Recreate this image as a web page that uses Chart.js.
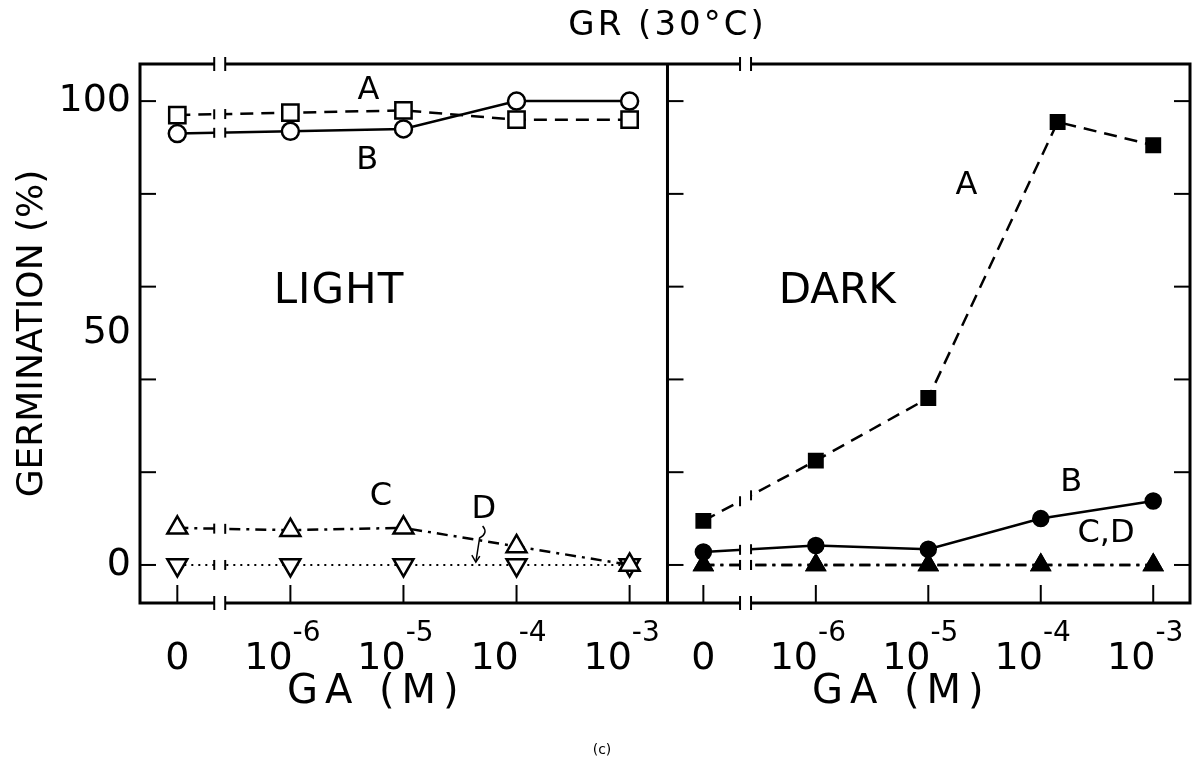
<!DOCTYPE html>
<html>
<head>
<meta charset="utf-8">
<script src="https://cdn.jsdelivr.net/npm/chart.js@4.4.1/dist/chart.umd.min.js"></script>
<style>
  html, body { margin: 0; padding: 0; background: #fff; }
  #wrap { width: 1204px; height: 773px; position: relative; }
</style>
</head>
<body>
<div id="wrap"><canvas id="gr" width="1204" height="773"></canvas></div>
<script>
// GA doses, evenly spaced; "0" is set off by an axis break
const doses = ['0', '-6', '-5', '-4', '-3'];
const doseX = [0, 1, 2, 3, 4];

// LIGHT panel (open symbols)
const lightA = [97, 97.5, 98, 96, 96];
const lightB = [93, 93.5, 94, 100, 100];
const lightC = [8, 7.5, 8, 4, 0];
const lightD = [0, 0, 0, 0, 0];

// DARK panel (closed symbols)
const darkAx = [0, 1, 2, 3.15, 4];
const darkA = [9.5, 22.5, 36, 95.5, 90.5];
const darkB = [2.8, 4.2, 3.4, 10, 13.8];
const darkC = [0, 0, 0, 0, 0];
const darkD = [0, 0, 0, 0, 0];

const yLabels = [0, 50, 100];
const yMarks = [0, 20, 40, 60, 80, 100];

const FONT = "'DejaVu Sans', sans-serif";
const BREAK_AT = 0.375;

function pts(xs, ys) {
  return ys.map((v, i) => ({ x: xs[i], y: v }));
}

function style(extra) {
  return Object.assign({
    borderColor: '#000',
    borderWidth: 2.5,
    pointBorderColor: '#000',
    pointBorderWidth: 2.5,
    pointBackgroundColor: '#fff',
    pointHoverRadius: 0,
    tension: 0,
    fill: false,
    xAxisID: 'x1'
  }, extra);
}

function seg(ctx, x1, y1, x2, y2) {
  ctx.beginPath();
  ctx.moveTo(x1, y1);
  ctx.lineTo(x2, y2);
  ctx.stroke();
}

const frame = {
  id: 'frame',
  beforeDatasetsDraw(chart) {
    const { ctx, chartArea: a, scales } = chart;
    const mid = scales.x1.right;
    ctx.save();
    ctx.strokeStyle = '#000';
    ctx.lineWidth = 3;
    ctx.strokeRect(a.left, a.top, a.right - a.left, a.bottom - a.top);
    seg(ctx, mid, a.top, mid, a.bottom);
    // inward tick marks
    ctx.lineWidth = 2;
    yMarks.forEach(v => {
      const py = scales.y.getPixelForValue(v);
      seg(ctx, a.left, py, a.left + 16, py);
      seg(ctx, mid, py, mid + 16, py);
      seg(ctx, a.right, py, a.right - 16, py);
    });
    ['x1', 'x2'].forEach(id => doseX.forEach(v => {
      const px = scales[id].getPixelForValue(v);
      seg(ctx, px, a.bottom, px, a.bottom - 18);
    }));
    ctx.restore();
  },
  afterDatasetsDraw(chart) {
    const { ctx, chartArea: a, scales } = chart;
    const g = 5.5;
    ctx.save();
    ctx.strokeStyle = '#000';
    // axis breaks between 0 and 10^-6
    ['x1', 'x2'].forEach(id => {
      const bx = scales[id].getPixelForValue(BREAK_AT);
      ctx.fillStyle = '#fff';
      ctx.fillRect(bx - g, a.top - 8, 2 * g, a.bottom - a.top + 16);
      ctx.lineWidth = 2;
      [bx - g, bx + g].forEach(x => {
        seg(ctx, x, a.top - 7, x, a.top + 7);
        seg(ctx, x, a.bottom - 7, x, a.bottom + 7);
      });
      chart.data.datasets.forEach((ds, i) => {
        if (ds.xAxisID !== id) return;
        const d = chart.getDatasetMeta(i).data;
        const p0 = d[0], p1 = d[1];
        [bx - g, bx + g].forEach(x => {
          const y = p0.y + (p1.y - p0.y) * (x - p0.x) / (p1.x - p0.x);
          seg(ctx, x, y - 5, x, y + 5);
        });
      });
    });

    ctx.fillStyle = '#000';
    const at = (id, xv, yv) => [scales[id].getPixelForValue(xv), scales.y.getPixelForValue(yv)];
    const text = (s, x, y, size, spacing) => {
      ctx.font = size + 'px ' + FONT;
      ctx.letterSpacing = (spacing || 0) + 'px';
      ctx.textAlign = 'center';
      ctx.textBaseline = 'middle';
      ctx.fillText(s, x, y);
    };

    // title
    text('GR (30°C)', scales.x1.right, 26, 34, 3);

    // panel names and curve labels
    text('LIGHT', ...at('x1', 1.43, 58.9), 42, 1);
    text('DARK', ...at('x2', 1.19, 58.9), 42, 0);
    text('A', ...at('x1', 1.69, 102.3), 32);
    text('B', ...at('x1', 1.68, 87.2), 32);
    text('C', ...at('x1', 1.8, 14.7), 32);
    text('D', ...at('x1', 2.71, 12), 32);
    text('A', ...at('x2', 2.34, 81.8), 32);
    text('B', ...at('x2', 3.27, 17.7), 32);
    text('C,D', ...at('x2', 3.58, 6.8), 32);

    // arrow from D down to its curve
    const [ax0, ay0] = at('x1', 2.7, 8.4);
    const [ax1, ay1] = at('x1', 2.64, 0.6);
    ctx.lineWidth = 1.5;
    ctx.beginPath();
    ctx.moveTo(ax0, ay0);
    ctx.quadraticCurveTo(ax0 + 6, ay0 + 7, ax0 - 3, ay0 + 12);
    ctx.lineTo(ax1, ay1);
    ctx.stroke();
    ctx.beginPath();
    ctx.moveTo(ax1 - 4, ay1 - 7);
    ctx.lineTo(ax1, ay1);
    ctx.lineTo(ax1 + 4, ay1 - 6);
    ctx.stroke();

    // x tick labels with exponents
    ['x1', 'x2'].forEach(id => doses.forEach((lab, i) => {
      const px = scales[id].getPixelForValue(doseX[i]);
      ctx.textBaseline = 'alphabetic';
      ctx.letterSpacing = '0px';
      if (lab === '0') {
        ctx.font = '38px ' + FONT;
        ctx.textAlign = 'center';
        ctx.fillText('0', px, 669);
        return;
      }
      ctx.font = '38px ' + FONT;
      const wb = ctx.measureText('10').width;
      ctx.font = '28px ' + FONT;
      const we = ctx.measureText(lab).width;
      const x0 = px - 8 - (wb + we) / 2;
      ctx.textAlign = 'left';
      ctx.font = '38px ' + FONT;
      ctx.fillText('10', x0, 669);
      ctx.font = '28px ' + FONT;
      ctx.fillText(lab, x0 + wb, 641);
    }));

    // x axis titles
    ['x1', 'x2'].forEach(id => {
      text('GA (M)', scales[id].getPixelForValue(1.76), 693, 40, 7);
    });
    text('(c)', chart.width / 2, 750, 14);
    ctx.restore();
  }
};

const darkStyle = { pointBackgroundColor: '#000', xAxisID: 'x2' };

new Chart(document.getElementById('gr').getContext('2d'), {
  type: 'line',
  data: {
    datasets: [
      style({ data: pts(doseX, lightA), borderDash: [13, 8], pointStyle: 'rect', pointRadius: 11.5 }),
      style({ data: pts(doseX, lightB), pointStyle: 'circle', pointRadius: 8.5 }),
      style({ data: pts(doseX, lightC), borderDash: [11, 6, 3, 6], pointStyle: 'triangle', pointRadius: 11.5 }),
      style({ data: pts(doseX, lightD), borderDash: [2, 5], borderWidth: 2, pointStyle: 'triangle', pointRotation: 180, pointRadius: 11.5 }),
      style(Object.assign({ data: pts(darkAx, darkA), borderDash: [13, 8], pointStyle: 'rect', pointRadius: 9.5 }, darkStyle)),
      style(Object.assign({ data: pts(doseX, darkB), pointStyle: 'circle', pointRadius: 7.5 }, darkStyle)),
      style(Object.assign({ data: pts(doseX, darkC), borderDash: [11, 6, 3, 6], pointStyle: 'triangle', pointRadius: 10 }, darkStyle)),
      style(Object.assign({ data: pts(doseX, darkD), borderDash: [11, 6, 3, 6], pointStyle: 'triangle', pointRadius: 10 }, darkStyle))
    ]
  },
  options: {
    responsive: false,
    animation: false,
    events: [],
    layout: { padding: { top: 64, right: 9, left: 0, bottom: 0 } },
    plugins: { legend: { display: false }, tooltip: { enabled: false } },
    scales: {
      x1: {
        type: 'linear', position: 'bottom', stack: 'ga', stackWeight: 530,
        min: -0.33, max: 4.335,
        grid: { display: false }, border: { display: false }, ticks: { display: false },
        afterFit: s => { s.height = 170; }
      },
      x2: {
        type: 'linear', position: 'bottom', stack: 'ga', stackWeight: 525,
        min: -0.319, max: 4.327,
        grid: { display: false }, border: { display: false }, ticks: { display: false },
        afterFit: s => { s.height = 170; }
      },
      y: {
        type: 'linear', position: 'left', min: -8.2, max: 108,
        grid: { display: false, drawTicks: false }, border: { display: false },
        afterBuildTicks: s => { s.ticks = yLabels.map(v => ({ value: v })); },
        afterFit: s => { s.width = 140; },
        ticks: { color: '#000', padding: 9, font: { family: FONT, size: 38 } },
        title: {
          display: true, text: 'GERMINATION (%)', color: '#000',
          font: { family: FONT, size: 36, lineHeight: 1.2 }, padding: { top: 11 }
        }
      }
    }
  },
  plugins: [frame]
});
</script>
</body>
</html>
